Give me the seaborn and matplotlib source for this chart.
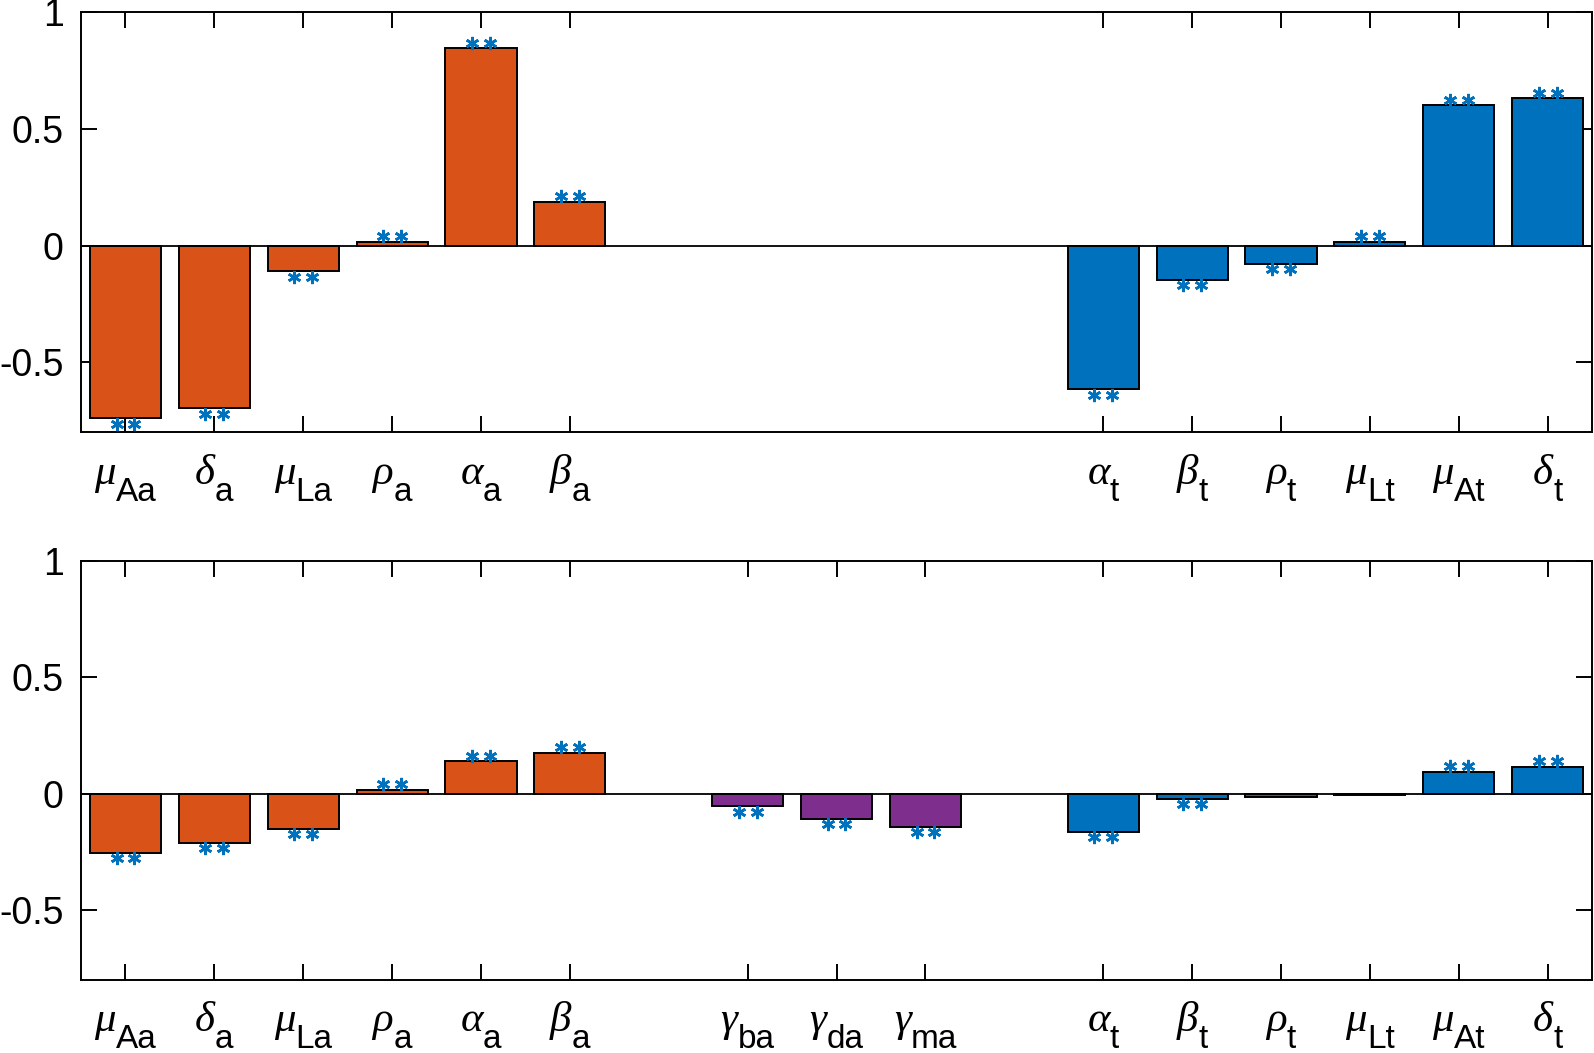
import matplotlib
matplotlib.use("Agg")
import matplotlib.pyplot as plt
import seaborn as sns
import numpy as np
import pandas as pd

# parameter positions on the x axis (gaps at 7 and 11)
positions = [1, 2, 3, 4, 5, 6, 8, 9, 10, 12, 13, 14, 15, 16, 17]
greek = ["μ", "δ", "μ", "ρ", "α", "β", "γ", "γ", "γ", "α", "β", "ρ", "μ", "μ", "δ"]
subs = ["Aa", "a", "La", "a", "a", "a", "ba", "da", "ma", "t", "t", "t", "Lt", "At", "t"]
groups = ["a"] * 6 + ["g"] * 3 + ["t"] * 6

# top panel: no gamma parameters
top_values = [-0.738, -0.695, -0.110, 0.017, 0.845, 0.188,
              np.nan, np.nan, np.nan,
              -0.614, -0.146, -0.077, 0.017, 0.600, 0.631]
top_stars = [1, 1, 1, 1, 1, 1, 0, 0, 0, 1, 1, 1, 1, 1, 1]

bottom_values = [-0.253, -0.210, -0.150, 0.017, 0.140, 0.176,
                 -0.052, -0.107, -0.141,
                 -0.163, -0.021, -0.013, -0.005, 0.094, 0.116]
bottom_stars = [1, 1, 1, 1, 1, 1, 1, 1, 1, 1, 1, 0, 0, 1, 1]

palette = {"a": "#D95319", "g": "#7E2F8E", "t": "#0072BD"}
star_color = "#0072BD"

sns.set_theme(style="white")
plt.rcParams["font.family"] = ["Liberation Sans", "DejaVu Sans"]
plt.rcParams["axes.unicode_minus"] = False

DPI = 100
fig = plt.figure(figsize=(15.94, 10.53), dpi=DPI)
ax_top = fig.add_axes([0.0508, 0.5893, 0.9480, 0.3993])
ax_bot = fig.add_axes([0.0508, 0.0693, 0.9480, 0.3979])

label_pairs = []


def draw_panel(ax, values, stars):
    df = pd.DataFrame({"pos": positions, "value": values, "group": groups,
                       "star": stars, "greek": greek, "sub": subs}).dropna()
    sns.barplot(data=df, x="pos", y="value", hue="group", palette=palette,
                native_scale=True, dodge=False, width=0.8, saturation=1,
                edgecolor="black", linewidth=1.4, errorbar=None,
                legend=False, ax=ax)
    ax.axhline(0, color="black", lw=1.3, zorder=3)

    st = df[df["star"] == 1]
    sy = st["value"] + np.sign(st["value"]) * 0.024
    for dx in (-0.1, 0.1):
        ax.plot(st["pos"] + dx, sy, ls="none", marker=(6, 2, 0), ms=9.5,
                mew=1.9, color=star_color, zorder=4, clip_on=False)

    ax.set_xlim(0.5, 17.5)
    ax.set_ylim(-0.8, 1)
    ax.set_yticks([-0.5, 0, 0.5, 1])
    ax.set_yticklabels(["-0.5", "0", "0.5", "1"])
    ax.set_xticks(df["pos"])
    ax.set_xticklabels([])
    ax.set_xlabel("")
    ax.set_ylabel("")
    ax.tick_params(direction="in", length=11.5, width=1.4, color="black",
                   top=True, right=True, bottom=True, left=True,
                   labelsize=27, labelcolor="black", pad=12.5)
    for sp in ax.spines.values():
        sp.set_visible(True)
        sp.set_color("black")
        sp.set_linewidth(1.4)

    trans = ax.get_xaxis_transform()
    for p, g, s in zip(df["pos"], df["greek"], df["sub"]):
        tg = ax.annotate(g, xy=(p, 0), xycoords=trans, xytext=(0, -37.0),
                         textcoords="offset points", ha="left", va="baseline",
                         fontsize=31, family="Liberation Serif", style="italic",
                         color="black", annotation_clip=False)
        ts = ax.annotate(s, xy=(p, 0), xycoords=trans, xytext=(0, -49.0),
                         textcoords="offset points", ha="left", va="baseline",
                         fontsize=24, family="Liberation Sans",
                         color="black", annotation_clip=False)
        label_pairs.append((tg, ts))


draw_panel(ax_top, top_values, top_stars)
draw_panel(ax_bot, bottom_values, bottom_stars)

# center each greek+subscript label under its tick
fig.canvas.draw()
renderer = fig.canvas.get_renderer()
for tg, ts in label_pairs:
    wg = tg.get_window_extent(renderer).width
    ws = ts.get_window_extent(renderer).width
    start = -(wg + ws) / 2
    tg.xyann = (start * 72 / DPI, tg.xyann[1])
    ts.xyann = ((start + wg) * 72 / DPI, ts.xyann[1])

fig.savefig("out.png", dpi=DPI)
